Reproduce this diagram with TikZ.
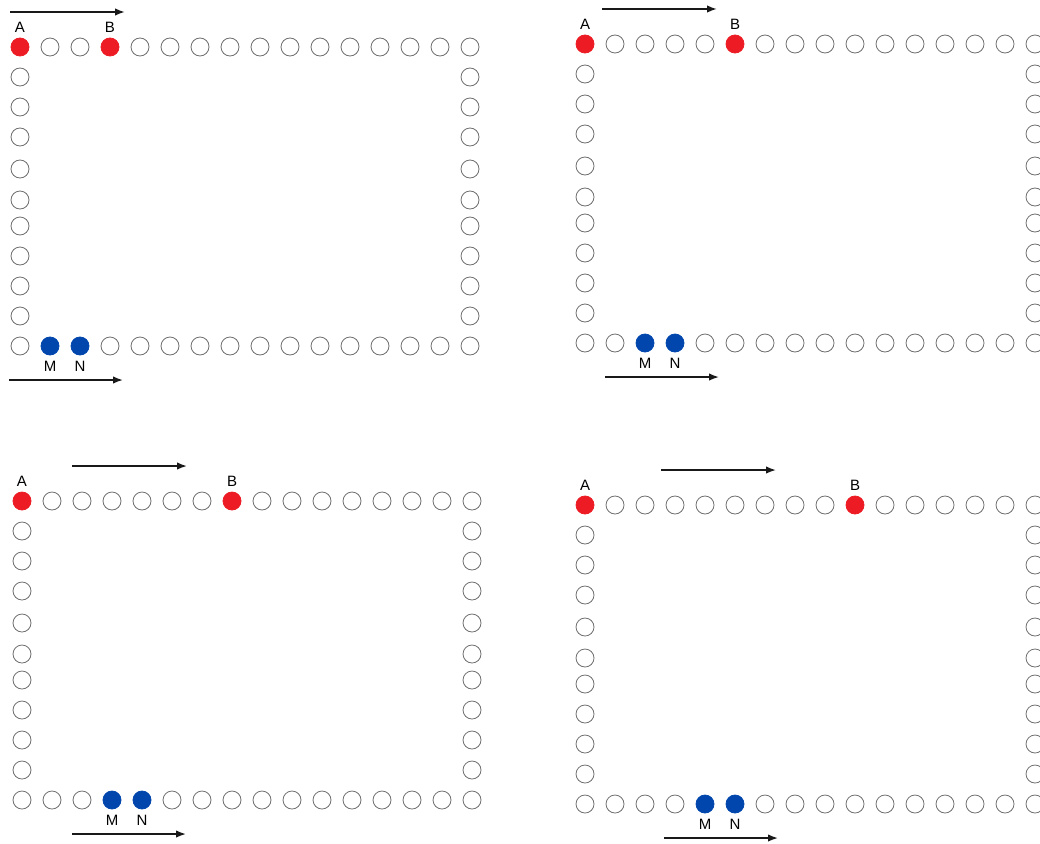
\documentclass[tikz,border=0pt]{standalone}
\usepackage{fontspec}
\setmainfont{Liberation Sans}
\usetikzlibrary{arrows.meta, positioning}
\definecolor{pinred}{RGB}{237,28,36}
\definecolor{pinblue}{RGB}{0,70,173}
\definecolor{pinline}{RGB}{110,110,110}
\tikzset{
    pin/.style={
        circle, draw=pinline, line width=0.8pt, fill=white, minimum size=18pt, inner sep=0pt
    },
    redpin/.style={
        circle, draw=pinred, fill=pinred, line width=0.8pt, minimum size=18pt, inner sep=0pt
    },
    bluepin/.style={
        circle, draw=pinblue, fill=pinblue, line width=0.8pt, minimum size=18pt, inner sep=0pt
    },
    tag/.style={
        inner sep=0pt, font=\fontsize{15}{17}\selectfont
    },
    arrow/.style={
        line width=1.6pt, -{Latex[length=10pt, width=7.5pt]}, draw=black!90
    }
}
\begin{document}
\begin{tikzpicture}[x=1pt, y=-1pt]
    \useasboundingbox (0,0) rectangle (1040,843);
    % panel / origin / B index / M index / top arrow start / bottom arrow start
    \foreach \p/\px/\py/\rb/\bm/\ta/\ba in {1/20/47/3/1/-10/-11, 2/585/44/5/2/17/20, 3/22/501/7/3/50/50, 4/585/505/9/4/76/79} {
        \begin{scope}[shift={(\px,\py)}]
            % top row
            \foreach \k in {0,...,15} {
                \ifnum\k=0 \def\tstyle{redpin}\else\ifnum\k=\rb \def\tstyle{redpin}\else\def\tstyle{pin}\fi\fi
                \node[\tstyle] (t\p-\k) at (30*\k, 0) {};
            }
            % bottom row
            \foreach \k in {0,...,15} {
                \pgfmathtruncatemacro{\nb}{\bm+1}
                \ifnum\k=\bm \def\bstyle{bluepin}\else\ifnum\k=\nb \def\bstyle{bluepin}\else\def\bstyle{pin}\fi\fi
                \node[\bstyle] (b\p-\k) at (30*\k, 299) {};
            }
            % side columns
            \foreach \y [count=\j] in {30,60,90,122,153,179,209,239,269} {
                \node[pin] (l\p-\j) at (0, \y) {};
                \node[pin] (r\p-\j) at (450, \y) {};
            }
            % labels
            \node[tag, above=5pt of t\p-0] (a\p) {A};
            \node[tag, above=5pt of t\p-\rb] (bb\p) {B};
            \pgfmathtruncatemacro{\nb}{\bm+1}
            \node[tag, below=6pt of b\p-\bm] (m\p) {M};
            \node[tag, below=6pt of b\p-\nb] (n\p) {N};
            % arrows
            \coordinate (ts\p) at (\ta, -35);
            \coordinate (te\p) at (\ta+115, -35);
            \coordinate (bs\p) at (\ba, 333);
            \coordinate (be\p) at (\ba+114, 333);
            \draw[arrow] (ts\p) -- (te\p);
            \draw[arrow] (bs\p) -- (be\p);
        \end{scope}
    }
\end{tikzpicture}
\end{document}
